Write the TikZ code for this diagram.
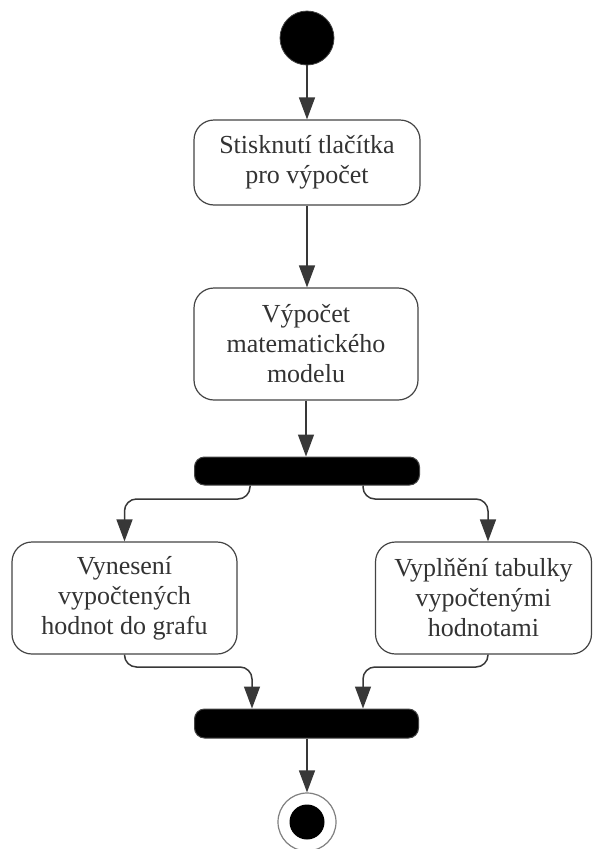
\documentclass[tikz,border=0pt]{standalone}
\usepackage{fontspec}
\setmainfont{Liberation Serif}
\usetikzlibrary{arrows.meta,calc}
\definecolor{linec}{HTML}{383838}
\definecolor{textc}{HTML}{333333}
\definecolor{boxc}{HTML}{444444}
\begin{document}
\begin{tikzpicture}[x=1pt,y=-1pt,
  actbox/.style={draw=boxc,line width=1.2pt,rounded corners=20pt,fill=white,
    align=center,text=textc,font=\fontsize{26}{30}\selectfont,inner sep=0pt},
  barbox/.style={draw=boxc,line width=1pt,fill=black,rounded corners=10pt,inner sep=0pt},
  flow/.style={draw=linec,line width=1.5pt,-{Triangle[length=22pt,width=16pt]}},
  bentflow/.style={flow,rounded corners=12pt}]
\useasboundingbox (0,0) rectangle (593,849);
\node[circle,fill=black,draw=boxc,line width=0.8pt,minimum size=54pt,inner sep=0pt] (start) at (307,38) {};
\node[actbox,minimum width=226pt,minimum height=85pt] (box1) at (307,162.5) {Stisknutí tlačítka\\pro výpočet};
\node[actbox,minimum width=224pt,minimum height=112pt] (box2) at (306,344) {Výpočet\\matematického\\modelu};
\node[barbox,minimum width=225pt,minimum height=28pt] (bar1) at (307,471) {};
\node[actbox,minimum width=225pt,minimum height=112pt] (left) at (124.5,598) {Vynesení\\vypočtených\\hodnot do grafu};
\node[actbox,minimum width=216pt,minimum height=112pt] (right) at (483.5,598) {Vyplňění tabulky\\vypočtenými\\hodnotami};
\node[barbox,minimum width=224pt,minimum height=29pt] (bar2) at (306.5,723.5) {};
\node[circle,draw=gray,line width=1.2pt,fill=white,minimum size=58pt,inner sep=0pt] (end) at (307,822) {};
\node[circle,fill=black,minimum size=35pt,inner sep=0pt] (endin) at (end.center) {};
\coordinate (fa) at (250,499);
\coordinate (fb) at (363,499);
\coordinate (ja) at (252,667);
\coordinate (jb) at (363,667);
\draw[flow] (start.south) -- (box1.north);
\draw[flow] (box1.south) -- (box1.south |- box2.north);
\draw[flow] (box2.south) -- (box2.south |- bar1.north);
\draw[bentflow] (bar1.south -| fa) -- (fa) -| (left.north);
\draw[bentflow] (bar1.south -| fb) -- (fb) -| ([xshift=4.5pt]right.north);
\draw[bentflow] (left.south) |- (ja) -- (bar2.north -| ja);
\draw[bentflow] ([xshift=4.5pt]right.south) |- (jb) -- (bar2.north -| jb);
\draw[flow] (bar2.south -| end.north) -- (end.north);
\end{tikzpicture}
\end{document}
